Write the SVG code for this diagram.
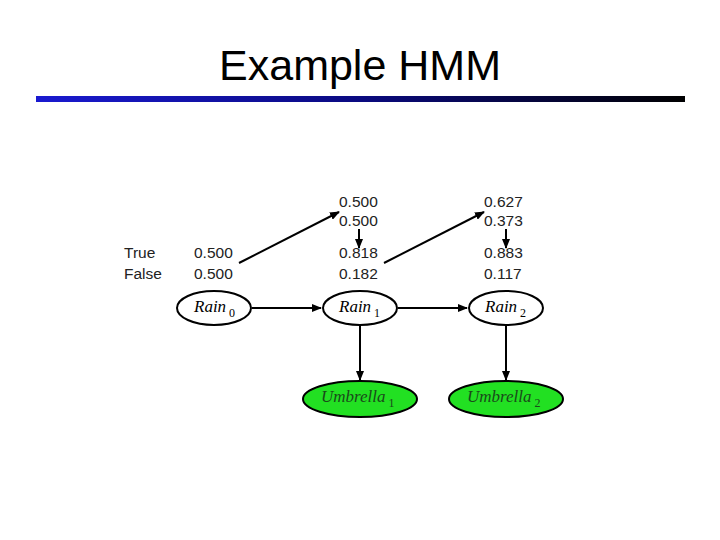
<svg xmlns="http://www.w3.org/2000/svg" width="720" height="540" viewBox="0 0 720 540">
<defs>
<linearGradient id="bar" x1="0" y1="0" x2="1" y2="0">
<stop offset="0" stop-color="#1a1ad0"/>
<stop offset="0.5" stop-color="#0a0a80"/>
<stop offset="1" stop-color="#000000"/>
</linearGradient>
<marker id="ah" markerWidth="10" markerHeight="8" refX="9" refY="4" orient="auto" markerUnits="userSpaceOnUse">
<path d="M0,0 L10,4 L0,8 z" fill="#000"/>
</marker>
</defs>
<style>
.num{font-family:"Liberation Sans",Arial,sans-serif;font-size:15.5px;fill:#222}
.node{fill:#fff;stroke:#000;stroke-width:2}
.obs{fill:#22e022;stroke:#000;stroke-width:2}
.lbl{font-family:"Liberation Serif","Times New Roman",serif;font-style:italic;font-size:17px;fill:#000}
.olbl{font-family:"Liberation Serif","Times New Roman",serif;font-style:italic;font-size:17px;fill:#1a4a1a}
.sub{font-size:12px;font-style:normal}
.edge{stroke:#000;stroke-width:2;fill:none;marker-end:url(#ah)}
</style>
<rect width="720" height="540" fill="#fff"/>
<text x="360" y="80" text-anchor="middle" font-family="Liberation Sans,Arial,sans-serif" font-size="43" fill="#000">Example HMM</text>
<rect x="36" y="96" width="649" height="6" fill="url(#bar)"/>

<g id="table">
<text class="num" x="124" y="258">True</text>
<text class="num" x="124" y="279">False</text>
<text class="num" x="194" y="258">0.500</text>
<text class="num" x="194" y="279">0.500</text>
<text class="num" x="339" y="207">0.500</text>
<text class="num" x="339" y="226">0.500</text>
<text class="num" x="339" y="258">0.818</text>
<text class="num" x="339" y="279">0.182</text>
<text class="num" x="484" y="207">0.627</text>
<text class="num" x="484" y="226">0.373</text>
<text class="num" x="484" y="258">0.883</text>
<text class="num" x="484" y="279">0.117</text>
</g>

<g id="connectors">
<line class="edge" x1="239" y1="263" x2="339" y2="212"/>
<line class="edge" x1="384" y1="263" x2="484" y2="212"/>
<line class="edge" x1="359" y1="229" x2="359" y2="248"/>
<line class="edge" x1="506" y1="229" x2="506" y2="248"/>
<line class="edge" x1="252" y1="308" x2="321" y2="308"/>
<line class="edge" x1="398" y1="308" x2="467" y2="308"/>
<line class="edge" x1="360" y1="326" x2="360" y2="380"/>
<line class="edge" x1="506" y1="326" x2="506" y2="380"/>
</g>

<g id="rain0">
<ellipse class="node" cx="214" cy="308" rx="37" ry="17"/>
<text class="lbl" x="194" y="312">Rain<tspan class="sub" dx="3" dy="5">0</tspan></text>
</g>
<g id="rain1">
<ellipse class="node" cx="360" cy="308" rx="37" ry="17"/>
<text class="lbl" x="339" y="312">Rain<tspan class="sub" dx="3" dy="5">1</tspan></text>
</g>
<g id="rain2">
<ellipse class="node" cx="506" cy="308" rx="37" ry="17"/>
<text class="lbl" x="485" y="312">Rain<tspan class="sub" dx="3" dy="5">2</tspan></text>
</g>
<g id="umbrella1">
<ellipse class="obs" cx="360" cy="399" rx="57" ry="18"/>
<text class="olbl" x="321" y="402">Umbrella<tspan class="sub" dx="3" dy="5">1</tspan></text>
</g>
<g id="umbrella2">
<ellipse class="obs" cx="506" cy="399" rx="57" ry="18"/>
<text class="olbl" x="467" y="402">Umbrella<tspan class="sub" dx="3" dy="5">2</tspan></text>
</g>
</svg>
